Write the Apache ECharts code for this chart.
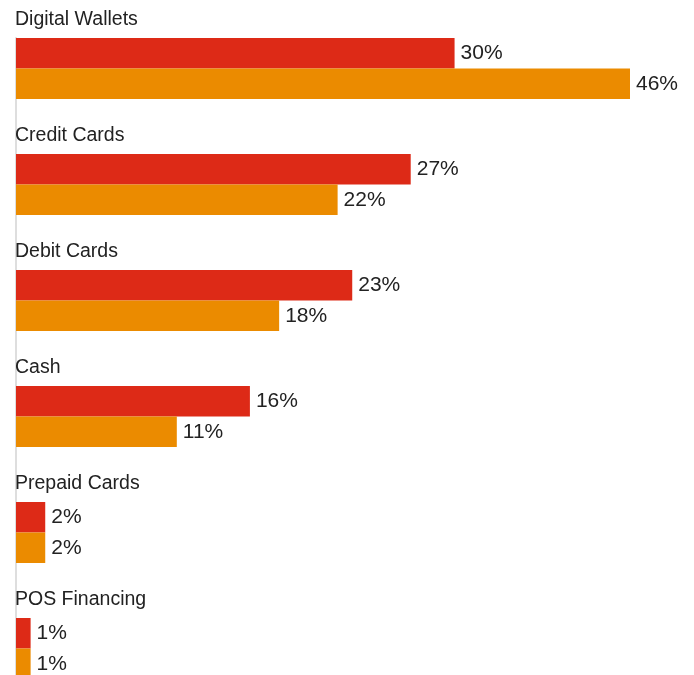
<!DOCTYPE html>
<html>
<head>
<meta charset="utf-8">
<script src="https://cdn.jsdelivr.net/npm/echarts@6/dist/echarts.min.js"></script>
<style>
  html, body { margin: 0; padding: 0; background: #fff; }
  #chart { width: 694px; height: 675px; }
</style>
</head>
<body>
<div id="chart"></div>
<script>
// data
const categories = ['Digital Wallets', 'Credit Cards', 'Debit Cards', 'Cash', 'Prepaid Cards', 'POS Financing']
const seriesA = [30, 27, 23, 16, 2, 1]   // red
const seriesB = [46, 22, 18, 11, 2, 1]   // orange
const spacer = categories.map(() => null) // keeps the bars at the top of each band

const chart = echarts.init(document.getElementById('chart'), null, { renderer: 'canvas' })

const fontFamily = '"Liberation Sans", Arial, sans-serif'
const valueLabel = {
  show: true,
  position: 'right',
  distance: 6,
  color: '#222',
  fontSize: 21,
  fontFamily: fontFamily,
  formatter: p => p.value + '%'
}

chart.setOption({
  animation: false,
  grid: {
    left: 16,
    top: 38,
    width: 614,
    height: 696,
    outerBoundsMode: 'none'
  },
  xAxis: {
    type: 'value',
    min: 0,
    max: 42,
    show: false
  },
  yAxis: {
    type: 'category',
    data: categories,
    inverse: true,
    axisTick: { show: false },
    splitLine: { show: false },
    axisLine: {
      show: true,
      lineStyle: { color: '#dedede', width: 2 }
    },
    axisLabel: {
      inside: true,
      margin: -1,
      color: '#222',
      fontSize: 19.5,
      fontFamily: fontFamily,
      lineHeight: 20,
      verticalAlign: 'bottom',
      padding: [0, 0, 66, 0]
    }
  },
  series: [
    {
      type: 'bar',
      data: seriesA,
      barWidth: 30.5,
      barGap: 0,
      itemStyle: { color: '#dd2a17' },
      label: valueLabel
    },
    {
      type: 'bar',
      data: seriesB,
      barWidth: 30.5,
      barGap: 0,
      itemStyle: { color: '#eb8b00' },
      label: valueLabel
    },
    {
      type: 'bar',
      data: spacer,
      barWidth: 55,
      barGap: 0,
      silent: true,
      itemStyle: { color: 'transparent' }
    }
  ]
})
</script>
</body>
</html>
